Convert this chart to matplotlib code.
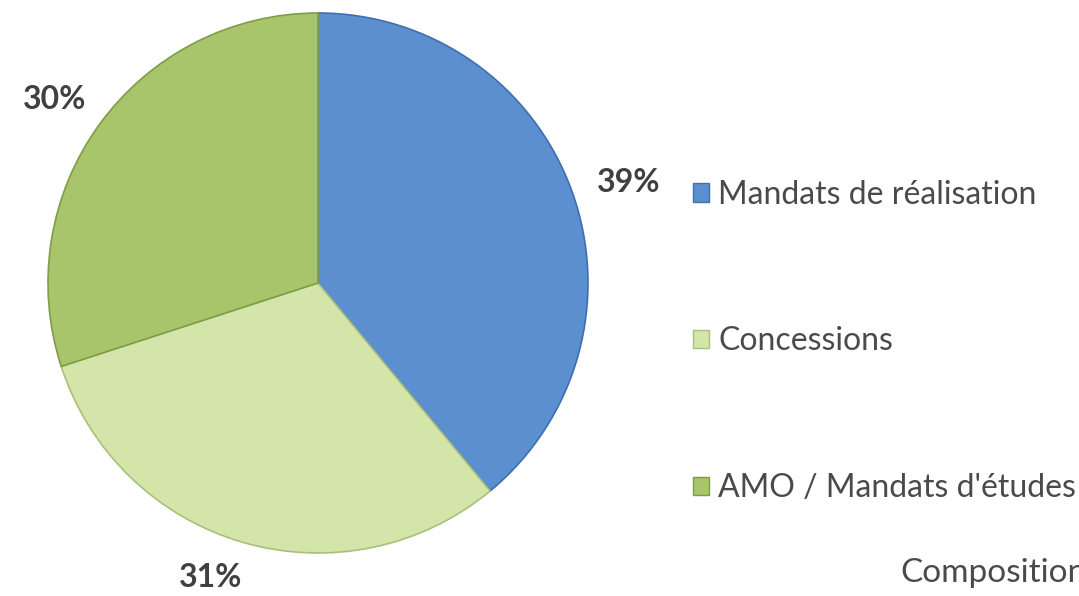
import numpy as np
import matplotlib.pyplot as plt
from matplotlib.patches import Patch

# données
categories = ["Mandats de réalisation", "Concessions", "AMO / Mandats d'études"]
valeurs = [39, 31, 30]
couleurs = ["#5b8fd0", "#d3e5a8", "#a8c56c"]
bords = ["#3f6fae", "#a9c07a", "#7f9c48"]
titre = "Composition"

plt.rcParams['font.family'] = ['Lato', 'DejaVu Sans']

fig = plt.figure(figsize=(10.79, 5.96), dpi=100)
ax = fig.add_axes([48 / 1079, 43 / 596, 540 / 1079, 540 / 596])

wedges, textes, pcts = ax.pie(
    valeurs, colors=couleurs, startangle=90, counterclock=False,
    autopct='%d%%', pctdistance=1.2, radius=1,
    wedgeprops=dict(linewidth=1.2, edgecolor='white'),
    textprops=dict(fontsize=23, fontweight='bold', color='#404040'))
for w, b in zip(wedges, bords):
    w.set_edgecolor(b)

# position des étiquettes (décalage d'angle, distance) comme dans l'original
decalages = [-1.8, -3.8, 1.2]
distances = [1.21, 1.16, 1.19]
for w, t, d, r in zip(wedges, pcts, decalages, distances):
    a = np.deg2rad((w.theta1 + w.theta2) / 2 + d)
    t.set_position((r * np.cos(a), r * np.sin(a)))
    t.set_clip_on(False)

ax.set_xlim(-1, 1)
ax.set_ylim(-1, 1)
ax.set_aspect('equal')
ax.axis('off')

poignees = [Patch(facecolor=c, edgecolor=b, linewidth=1) for c, b in zip(couleurs, bords)]
leg = fig.legend(poignees, categories, loc='upper left',
                 bbox_to_anchor=(664 / 1079, 1 - 151 / 596),
                 frameon=False, fontsize=23, labelspacing=3.65,
                 handlelength=0.5, handleheight=0.5, handletextpad=0.3,
                 labelcolor='#4a4a4a')

fig.text(900 / 1079, 1 - 582 / 596, titre, fontsize=24, color='#4a4a4a',
         ha='left', va='baseline')

fig.savefig('out.png', dpi=100)
